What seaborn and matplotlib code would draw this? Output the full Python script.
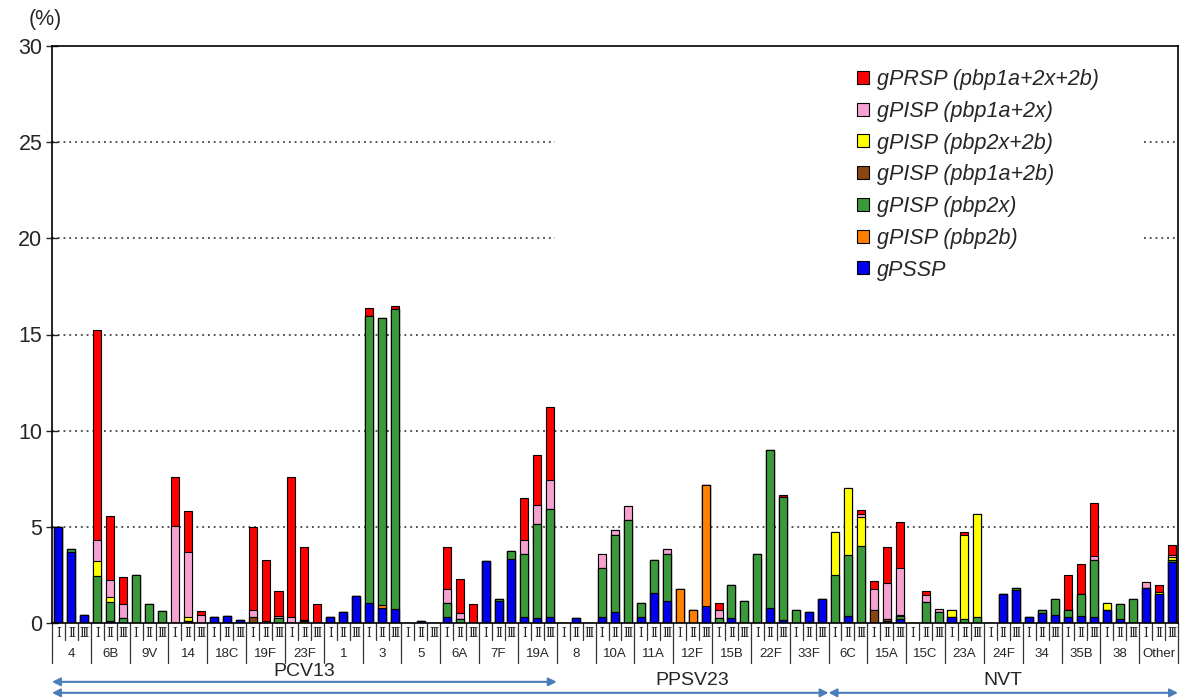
import numpy as np
import pandas as pd
import matplotlib
matplotlib.use("Agg")
import matplotlib.pyplot as plt
import matplotlib.transforms as mtransforms
from matplotlib.patches import Patch, Rectangle
import seaborn as sns

# serotypes, each with periods I / II / III
serotypes = ["4", "6B", "9V", "14", "18C", "19F", "23F", "1", "3", "5", "6A", "7F", "19A",
             "8", "10A", "11A", "12F", "15B", "22F", "33F",
             "6C", "15A", "15C", "23A", "24F", "34", "35B", "38", "Other"]
periods = ["\u2160", "\u2161", "\u2162"]
n_pcv13 = 13
n_ppsv23 = 20   # PCV13 serotypes + 7 more
# (%) per period, one triple per serotype in the order above
pssp = [5.0, 3.7, 0.43,  0, 0.1, 0,  0, 0, 0,  0, 0.08, 0,  0.29, 0.36, 0.17,  0, 0, 0,  0, 0, 0,
        0.31, 0.55, 1.42,  1.04, 0.76, 0.74,  0, 0.12, 0,  0.31, 0, 0,  3.24, 1.12, 3.34,  0.31, 0.24, 0.31,
        0, 0.24, 0,  0.31, 0.55, 0,  0.31, 1.56, 1.12,  0, 0, 0.87,  0, 0.24, 0,  0, 0.78, 0.17,  0, 0.55, 1.25,
        0, 0.38, 0,  0, 0, 0.2,  0, 0, 0,  0.31, 0, 0,  0, 1.52, 1.7,  0.31, 0.52, 0.4,  0.29, 0.38, 0.31,
        0.66, 0.22, 0,  1.8, 1.5, 3.17]
pbp2b = [0, 0, 0,  0, 0, 0,  0, 0, 0,  0, 0, 0,  0, 0, 0,  0, 0, 0,  0, 0.08, 0,
         0, 0, 0,  0, 0.19, 0,  0, 0, 0,  0, 0, 0,  0, 0, 0,  0, 0, 0,
         0, 0, 0,  0, 0, 0,  0, 0, 0,  1.78, 0.66, 6.28,  0, 0, 0,  0, 0, 0,  0, 0, 0,
         0, 0, 0,  0, 0, 0,  0, 0, 0,  0, 0, 0,  0, 0, 0,  0, 0, 0,  0, 0, 0,
         0, 0, 0,  0, 0, 0]
pbp2x = [0, 0.15, 0,  2.42, 0.97, 0.26,  2.47, 0.99, 0.6,  0, 0, 0,  0, 0, 0,  0, 0, 0.26,  0, 0.1, 0,
         0, 0, 0,  14.92, 14.9, 15.6,  0, 0, 0,  0.73, 0.22, 0,  0, 0.12, 0.38,  3.27, 4.9, 5.62,
         0, 0, 0,  2.54, 4.03, 5.36,  0.73, 1.73, 2.46,  0, 0, 0,  0.26, 1.75, 1.12,  3.58, 8.22, 6.4,  0.66, 0, 0,
         2.47, 3.17, 4.01,  0, 0.1, 0.14,  0, 1.09, 0.55,  0, 0.22, 0.31,  0, 0, 0.1,  0, 0.14, 0.86,  0.36, 1.12, 2.98,
         0, 0.76, 1.25,  0, 0, 0.08]
pbp1a_2b = [0, 0, 0,  0, 0, 0,  0, 0, 0,  0, 0, 0,  0, 0, 0,  0.29, 0, 0,  0, 0, 0,
            0, 0, 0,  0, 0, 0,  0, 0, 0,  0, 0, 0,  0, 0, 0,  0, 0, 0,
            0, 0, 0,  0, 0, 0,  0, 0, 0,  0, 0, 0,  0, 0, 0,  0, 0, 0,  0, 0, 0,
            0, 0, 0,  0.66, 0.1, 0.07,  0, 0, 0,  0, 0, 0,  0, 0, 0,  0, 0, 0,  0, 0, 0,
            0, 0, 0,  0, 0, 0]
pbp2x_2b = [0, 0, 0,  0.78, 0.29, 0,  0, 0, 0,  0, 0.25, 0,  0, 0, 0,  0, 0, 0,  0, 0, 0,
            0, 0, 0,  0, 0, 0,  0, 0, 0,  0, 0, 0,  0, 0, 0,  0, 0, 0,
            0, 0, 0,  0, 0, 0,  0, 0, 0,  0, 0, 0,  0, 0, 0,  0, 0, 0,  0, 0, 0,
            2.25, 3.46, 1.49,  0, 0, 0,  0, 0, 0,  0.35, 4.36, 5.35,  0, 0, 0,  0, 0, 0,  0, 0, 0,
            0.38, 0, 0,  0, 0.1, 0.17]
pbp1a_2x = [0, 0, 0,  1.12, 0.9, 0.73,  0, 0, 0,  5.02, 3.36, 0.42,  0, 0, 0,  0.36, 0.08, 0.12,  0.29, 0, 0,
            0, 0, 0,  0, 0, 0,  0, 0, 0,  0.74, 0.29, 0,  0, 0, 0,  0.74, 0.97, 1.5,
            0, 0, 0,  0.73, 0.26, 0.74,  0, 0, 0.26,  0, 0, 0,  0.4, 0, 0,  0, 0, 0,  0, 0, 0,
            0, 0, 0.17,  1.12, 1.87, 2.47,  0, 0.38, 0.17,  0, 0, 0,  0, 0, 0,  0, 0, 0,  0, 0, 0.17,
            0, 0, 0,  0.35, 0, 0.12]
prsp = [0, 0, 0,  10.93, 3.3, 1.4,  0, 0, 0,  2.56, 2.13, 0.19,  0, 0, 0,  4.36, 3.2, 1.3,  7.29, 3.78, 0.99,
        0, 0, 0,  0.42, 0, 0.15,  0, 0, 0,  2.18, 1.78, 0.99,  0, 0, 0,  2.2, 2.65, 3.8,
        0, 0, 0,  0, 0, 0,  0, 0, 0,  0, 0, 0,  0.38, 0, 0,  0, 0, 0.06,  0, 0, 0,
        0, 0, 0.21,  0.38, 1.89, 2.39,  0, 0.17, 0,  0, 0.14, 0,  0, 0, 0,  0, 0, 0,  1.82, 1.58, 2.77,
        0, 0, 0,  0, 0.36, 0.49]

# stack order bottom -> top
layers = [
    ("gPSSP", pssp, "#0000ee"),
    ("gPISP (pbp2b)", pbp2b, "#ff8000"),
    ("gPISP (pbp2x)", pbp2x, "#3a9a3a"),
    ("gPISP (pbp1a+2b)", pbp1a_2b, "#8b4513"),
    ("gPISP (pbp2x+2b)", pbp2x_2b, "#ffff00"),
    ("gPISP (pbp1a+2x)", pbp1a_2x, "#f7a1d2"),
    ("gPRSP (pbp1a+2x+2b)", prsp, "#ff0000"),
]

slots = [f"{s}-{p}" for s in serotypes for p in range(3)]
df = pd.DataFrame({"slot": slots})
cum = np.zeros(len(slots))
for name, vals, col in layers:
    cum = cum + np.array(vals)
    df[name] = cum

sns.set_style("white")
plt.rcParams["font.family"] = ["Liberation Sans", "DejaVu Sans"]

fig = plt.figure(figsize=(11.82, 7.0), dpi=100)
ax = fig.add_axes([52 / 1182, 1 - 623 / 700, 1126 / 1182, 577 / 700])

# draw cumulative totals from the top layer down
for name, vals, col in reversed(layers):
    sns.barplot(data=df, x="slot", y=name, order=slots, color=col, saturation=1,
                edgecolor="black", linewidth=0.8, width=0.62, errorbar=None, ax=ax, zorder=2)

ax.set_xlim(-0.5, len(slots) - 0.5)
ax.set_ylim(0, 30)
ax.set_yticks([0, 5, 10, 15, 20, 25, 30])
ax.tick_params(axis="y", labelsize=15.5, direction="inout", length=8, width=1, left=True, pad=3)
ax.set_xticks([])
ax.set_xlabel("")
ax.set_ylabel("")
ax.grid(False)
for y in [5, 10, 15, 20, 25]:
    ax.axhline(y, color="#444444", lw=1.3, ls=(0, (1, 2.2)), zorder=0.5)
for sp in ax.spines.values():
    sp.set_color("black")
    sp.set_linewidth(1.2)
    sp.set_visible(True)

# white area behind the legend hiding the grid
ax.add_patch(Rectangle((0.447, 0.585), 0.519, 0.41, transform=ax.transAxes,
                       facecolor="white", edgecolor="none", zorder=1))

fig.text(45 / 1182, 1 - 20 / 700, "(%)", fontsize=15.5, ha="center", va="center")

# x axis: periods, serotypes, vaccine groups
trans = mtransforms.blended_transform_factory(ax.transData, ax.transAxes)
for i in range(len(slots)):
    ax.text(i, -0.0175, periods[i % 3], transform=trans, ha="center", va="center",
            fontsize=8.5, family="DejaVu Serif")
for k in range(len(slots) + 1):
    low = -0.069 if k % 3 == 0 else -0.0295
    ax.plot([k - 0.5, k - 0.5], [0, low], transform=trans, color="#333333", lw=0.9, clip_on=False)
for j, s in enumerate(serotypes):
    ax.text(3 * j + 1, -0.053, s, transform=trans, ha="center", va="center", fontsize=9.5)

blue = "#4a7ebb"
def span_arrow(x0, x1, y):
    ax.annotate("", xy=(x1, y), xytext=(x0, y), xycoords=trans, textcoords=trans,
                annotation_clip=False,
                arrowprops=dict(arrowstyle="<|-|>", color=blue, lw=1.5, mutation_scale=12,
                                shrinkA=0, shrinkB=0))

n = len(serotypes)
span_arrow(-0.5, 3 * n_pcv13 - 0.5, -0.102)
span_arrow(-0.5, 3 * n_ppsv23 - 0.5, -0.121)
span_arrow(3 * n_ppsv23 - 0.5, 3 * n - 0.5, -0.121)
ax.text((3 * n_pcv13 - 1) / 2, -0.084, "PCV13", transform=trans, ha="center", va="center", fontsize=14)
ax.text((3 * n_pcv13 + 3 * n_ppsv23 - 1) / 2, -0.1, "PPSV23", transform=trans, ha="center",
        va="center", fontsize=14)
ax.text((3 * n_ppsv23 + 3 * n - 1) / 2, -0.1, "NVT", transform=trans, ha="center", va="center",
        fontsize=14)

handles = [Patch(facecolor=col, edgecolor="black", linewidth=0.8, label=name)
           for name, vals, col in reversed(layers)]
leg = fig.legend(handles=handles, loc="upper left", bbox_to_anchor=(857 / 1182, 1 - 69 / 700),
                 frameon=False, prop={"size": 15.5, "style": "italic"}, handlelength=0.55,
                 handleheight=0.55, handletextpad=0.4, labelspacing=0.5, borderpad=0,
                 borderaxespad=0)

fig.savefig("out.png", dpi=100)
